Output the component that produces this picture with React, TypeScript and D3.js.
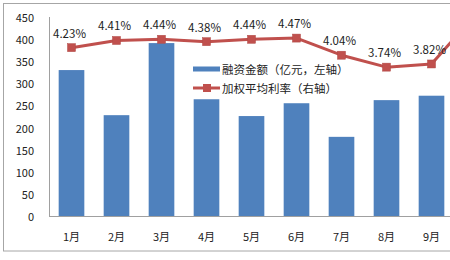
import React from "react";
import * as d3 from "d3";

const months = ["1月", "2月", "3月", "4月", "5月", "6月", "7月", "8月", "9月", "10月"];
const amounts = [330, 228, 391, 264, 226, 255, 179, 262, 272];
const rates = [4.23, 4.41, 4.44, 4.38, 4.44, 4.47, 4.04, 3.74, 3.82, 5.08];
const leftTicks = [0, 50, 100, 150, 200, 250, 300, 350, 400, 450];
const legendLabels = ["融资金额（亿元，左轴）", "加权平均利率（右轴）"];

const W = 450;
const H = 260;
const BAR = "#4F81BD";
const LINE = "#C0504D";
const FONT = "'Noto Sans CJK SC', 'Noto Sans', sans-serif";

export default function App() {
  const x = d3.scaleBand<string>().domain(months).range([49, 499]).paddingInner(0.43).paddingOuter(0.215);
  const yL = d3.scaleLinear().domain([0, 450]).range([216, 17]);
  const yR = d3.scaleLinear().domain([0, 5]).range([216, 17]);
  const cx = (m: string) => (x(m) as number) + x.bandwidth() / 2;
  const line = d3
    .line<number>()
    .x((_, i) => cx(months[i]))
    .y((d) => yR(d));
  const visible = (m: string) => cx(m) < W - 10;

  return (
    <svg width={W} height={H} style={{ position: "absolute", left: 0, top: 0, background: "#fff" }} fontFamily={FONT}>
      <rect x={3.5} y={3.5} width={520} height={247.5} fill="#fff" stroke="#a6a6a6" strokeWidth={1} />
      {/* axes */}
      <line x1={49.5} x2={49.5} y1={yL(450)} y2={yL(0)} stroke="#a0a0a0" />
      <line x1={49} x2={W} y1={yL(0) + 0.5} y2={yL(0) + 0.5} stroke="#a0a0a0" />
      {leftTicks.map((t) => (
        <text key={t} x={34} y={yL(t)} textAnchor="end" dominantBaseline="central" fontSize={11} fill="#222">
          {t}
        </text>
      ))}
      {months.filter(visible).map((m) => (
        <text key={m} x={cx(m)} y={236} textAnchor="middle" dominantBaseline="central" fontSize={11} fill="#222">
          {m}
        </text>
      ))}
      {/* bars */}
      {amounts.map((v, i) => (
        <rect key={i} x={x(months[i])} y={yL(v)} width={x.bandwidth()} height={yL(0) - yL(v)} fill={BAR} />
      ))}
      {/* line */}
      <path d={line(rates) || ""} fill="none" stroke={LINE} strokeWidth={3} strokeLinejoin="round" />
      {rates.map((r, i) => (
        <rect key={i} x={cx(months[i]) - 4} y={yR(r) - 4} width={8} height={8} fill={LINE} stroke="#b04845" strokeWidth={0.5} />
      ))}
      {rates.map((r, i) =>
        visible(months[i]) ? (
          <text key={i} x={cx(months[i]) - 2} y={yR(r) - 15} textAnchor="middle" dominantBaseline="central" fontSize={11.5} fill="#222">
            {r.toFixed(2)}%
          </text>
        ) : null
      )}
      {/* legend */}
      <rect x={193} y={66.5} width={27} height={5} fill={BAR} />
      <text x={222} y={69} dominantBaseline="central" fontSize={11.5} fill="#222">
        {legendLabels[0]}
      </text>
      <line x1={193} x2={220} y1={88} y2={88} stroke={LINE} strokeWidth={3} />
      <rect x={203} y={84} width={8} height={8} fill={LINE} />
      <text x={222} y={88} dominantBaseline="central" fontSize={11.5} fill="#222">
        {legendLabels[1]}
      </text>
    </svg>
  );
}
